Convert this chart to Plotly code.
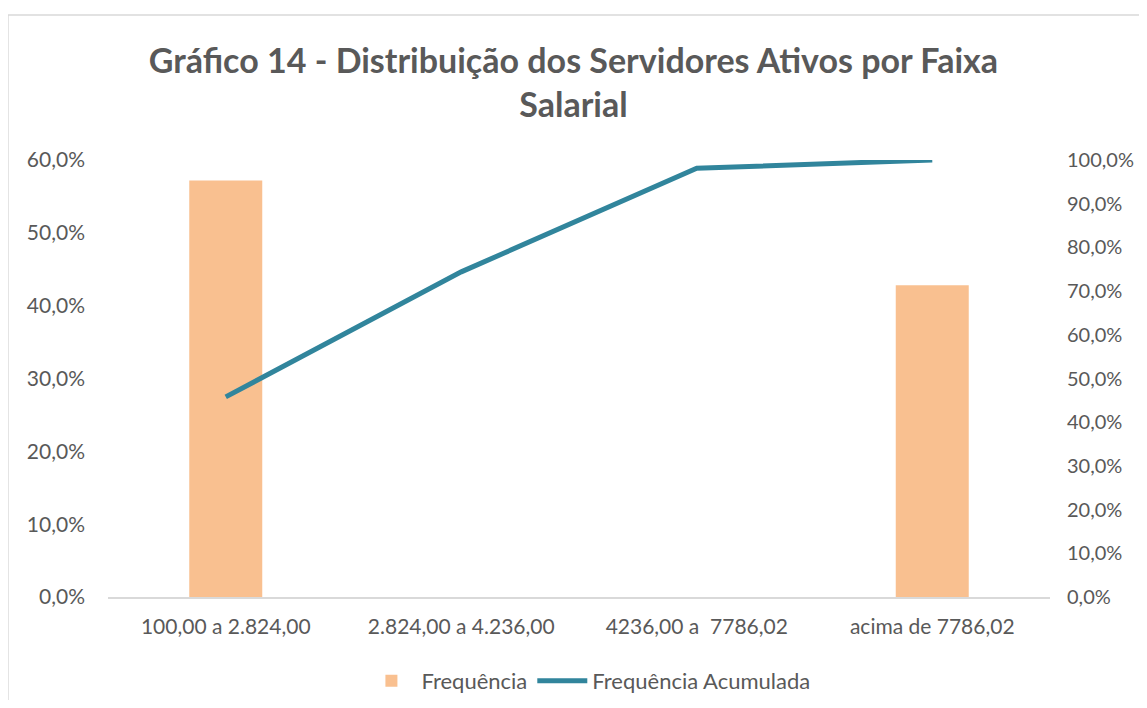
import plotly.graph_objects as go

categorias = ["100,00 a 2.824,00", "2.824,00 a 4.236,00", "4236,00 a  7786,02", "acima de 7786,02"]
frequencia = [0.572, None, None, 0.428]
freq_acumulada = [0.458, 0.744, 0.981, 1.0]

FONTE = "Lato, 'Open Sans', sans-serif"
CINZA = "#595959"

fig = go.Figure()
fig.add_trace(go.Bar(
    x=categorias, y=frequencia, name="Frequência",
    marker=dict(color="#F9C090", line=dict(width=0)), width=0.31,
))
fig.add_trace(go.Scatter(
    x=categorias, y=freq_acumulada, name="Frequência Acumulada", yaxis="y2",
    mode="lines", line=dict(color="#31859C", width=5),
))

# moldura do gráfico (cortada à direita e embaixo, como no original)
fig.add_shape(type="rect", xref="paper", yref="paper",
              x0=-0.1062, x1=1.2, y0=-0.3, y1=1.3318,
              line=dict(color="#D9D9D9", width=1.5), layer="below")

fig.update_layout(
    title=dict(text="<b>Gráfico 14 - Distribuição dos Servidores Ativos por Faixa<br>Salarial</b>",
               x=0.5, xanchor="center", y=0.906, yanchor="middle",
               font=dict(family=FONTE, size=34, color=CINZA)),
    width=1131, height=692,
    margin=dict(l=100, r=89, t=152, b=103, autoexpand=False),
    paper_bgcolor="white", plot_bgcolor="white",
    font=dict(family=FONTE, size=21, color=CINZA),
    xaxis=dict(type="category", showgrid=False, showline=True, linecolor="#D9D9D9",
               linewidth=2, ticks="", tickfont=dict(size=21, color=CINZA),
               ticklabelstandoff=10, automargin=False),
    yaxis=dict(range=[0, 0.6], dtick=0.1, tickformat=".1%",
               showgrid=False, zeroline=False, ticks="", automargin=False,
               tickfont=dict(size=21, color=CINZA), ticklabelstandoff=22),
    yaxis2=dict(range=[0, 1.0], dtick=0.1, tickformat=".1%", overlaying="y", side="right",
                showgrid=False, zeroline=False, ticks="", automargin=False,
                tickfont=dict(size=20, color=CINZA), ticklabelstandoff=16),
    separators=",.",
    legend=dict(orientation="h", x=0.51, xanchor="center",
                yref="container", y=0.0275, yanchor="middle",
                font=dict(size=22, color=CINZA), itemwidth=50,
                traceorder="normal"),
    showlegend=True,
)

fig.write_html("out.html")
